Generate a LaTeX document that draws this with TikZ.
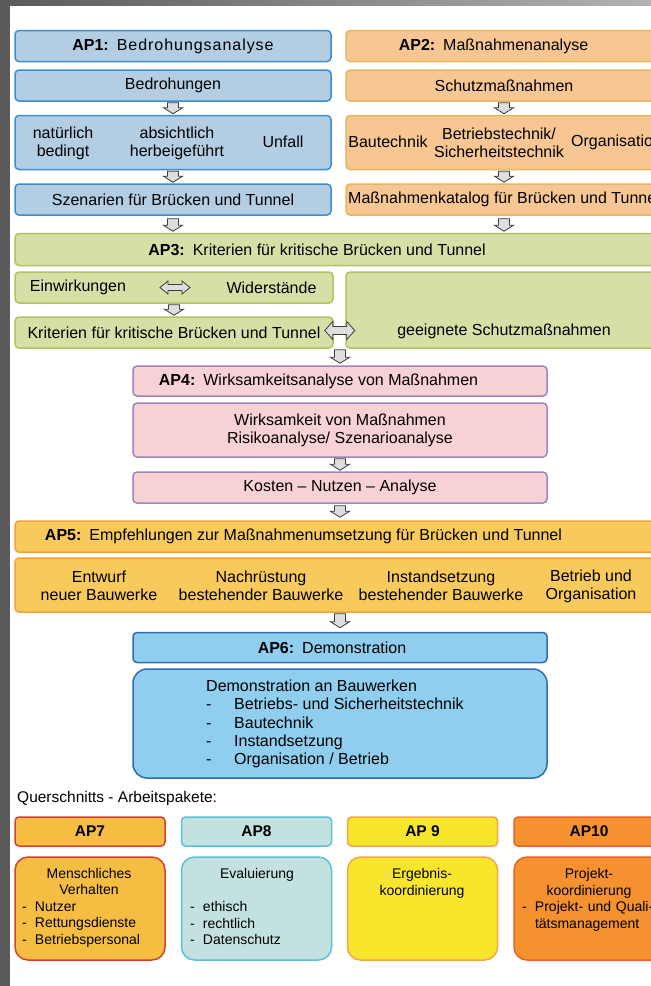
\documentclass[tikz,border=0pt]{standalone}
\usepackage{fontspec}
\setmainfont{Liberation Sans}
\usetikzlibrary{calc}

\definecolor{bedrFill}{HTML}{B3CDE3}
\definecolor{bedrLine}{HTML}{3D8ECF}
\definecolor{massFill}{HTML}{F7C692}
\definecolor{massLine}{HTML}{E6B75E}
\definecolor{kritFill}{HTML}{D6DFA6}
\definecolor{kritLine}{HTML}{AEC461}
\definecolor{wirkFill}{HTML}{F7D1D3}
\definecolor{wirkLine}{HTML}{9A87C1}
\definecolor{empfFill}{HTML}{F8CA5B}
\definecolor{empfLine}{HTML}{F3A23A}
\definecolor{demoFill}{HTML}{8FCEEF}
\definecolor{demoLine}{HTML}{2C6CB3}
\definecolor{menschFill}{HTML}{F5BE42}
\definecolor{menschLine}{HTML}{D1432F}
\definecolor{evalFill}{HTML}{C3E2DF}
\definecolor{evalLine}{HTML}{5DBFD8}
\definecolor{ergebFill}{HTML}{F7E62B}
\definecolor{ergebLine}{HTML}{F4A548}
\definecolor{projFill}{HTML}{F5922F}
\definecolor{projLine}{HTML}{E9622A}
\definecolor{arrowFill}{HTML}{DEDEDE}
\definecolor{arrowLine}{HTML}{3C3C3C}
\definecolor{frameDark}{HTML}{5A5A5A}
\definecolor{frameLight}{HTML}{B2B2B2}

\newcommand{\aplabel}[1]{\textbf{#1}\hspace{8pt}}
\newcommand{\demoitem}{\makebox[28pt][l]{-}}
\newcommand{\qitem}{\makebox[13pt][l]{-}}

\newcommand{\flowdown}[2]{%
  \path[blockarrow] let \p1=(#1), \p2=(#2) in
    (\x1-5.5pt,\y1) -- (\x1+5.5pt,\y1) -- (\x1+5.5pt,\y2+6pt)
    -- (\x1+9.5pt,\y2+6pt) -- (\x1,\y2) -- (\x1-9.5pt,\y2+6pt)
    -- (\x1-5.5pt,\y2+6pt) -- cycle;}
\newcommand{\flowboth}[4]{%
  \path[blockarrow] let \p1=(#1), \p2=(#2) in
    (\x1,\y1) -- (\x1+8pt,\y1+#3) -- (\x1+8pt,\y1+#4) -- (\x2-8pt,\y1+#4)
    -- (\x2-8pt,\y1+#3) -- (\x2,\y1) -- (\x2-8pt,\y1-#3) -- (\x2-8pt,\y1-#4)
    -- (\x1+8pt,\y1-#4) -- (\x1+8pt,\y1-#3) -- cycle;}

\begin{document}
\begin{tikzpicture}[
    x=1pt, y=-1pt,
    every node/.style={font=\fontsize{16}{18}\selectfont, inner sep=0pt, align=center},
    box/.style={draw, rounded corners=4pt, line width=1.5pt},
    bedrbox/.style={box, fill=bedrFill, draw=bedrLine, minimum width=316pt},
    massbox/.style={box, fill=massFill, draw=massLine, minimum width=316pt},
    kritbox/.style={box, fill=kritFill, draw=kritLine},
    wirkbox/.style={box, fill=wirkFill, draw=wirkLine, minimum width=414pt},
    empfbox/.style={box, fill=empfFill, draw=empfLine, minimum width=647pt},
    demobox/.style={box, fill=demoFill, draw=demoLine, minimum width=414pt},
    qhead/.style={box, minimum width=150pt, minimum height=29pt, font=\fontsize{15.5}{18}\selectfont\bfseries},
    qbody/.style={box, rounded corners=13pt, minimum width=150pt, minimum height=103pt},
    qtext/.style={font=\fontsize{14}{16.5}\selectfont, text width=134pt, align=left},
    blockarrow/.style={draw=arrowLine, fill=arrowFill, line width=0.8pt}
]
\useasboundingbox (0,0) rectangle (651,986);
\clip (0,0) rectangle (651,986);
\fill[white] (0,0) rectangle (651,986);
\shade[left color=frameDark, right color=frameLight] (0,0) rectangle (651,5);
\fill[frameDark] (0,0) rectangle (10,986);

\node[bedrbox, minimum height=31pt] (ap1) at (173,46) {\aplabel{AP1:}{\addfontfeature{LetterSpace=6}Bedrohungsanalyse}};
\node[bedrbox, minimum height=31pt] (bedr) at (173,85.5) {Bedrohungen};
\node[bedrbox, minimum height=54pt] (arten) at (173,142.5) {};
\node (natur) at (63,143) {natürlich\\bedingt};
\node (absicht) at (177,143) {absichtlich\\herbeigeführt};
\node (unfall) at (283,142) {Unfall};
\node[bedrbox, minimum height=31pt] (szen) at (173,199.5) {Szenarien für Brücken und Tunnel};

\node[massbox, minimum height=31pt] (ap2) at (504,46) {};
\node (ap2t) at (493.5,46) {\aplabel{AP2:}Maßnahmenanalyse};
\node[massbox, minimum height=31pt] (schutz) at (504,85.5) {Schutzmaßnahmen};
\node[massbox, minimum height=54pt] (massart) at (504,142.5) {};
\node (bautech) at (388,142) {Bautechnik};
\node (betrieb) at (499,143) {Betriebstechnik/\\Sicherheitstechnik};
\node[anchor=west] (orga) at (571,142) {Organisation};
\node[massbox, minimum height=31pt] (katalog) at (504,199.5) {Maßnahmenkatalog für Brücken und Tunnel};

\node[kritbox, minimum width=647pt, minimum height=32pt] (ap3) at (338.5,249.5) {};
\node (ap3t) at (317,249.5) {\aplabel{AP3:}Kriterien für kritische Brücken und Tunnel};
\node[kritbox, minimum width=318pt, minimum height=31pt] (einw) at (174,287.5) {};
\node (einwt) at (78,287.5) {Einwirkungen};
\node (widt) at (271.5,287.5) {Widerstände};
\node[kritbox, minimum width=318pt, minimum height=31pt] (krit) at (174,332.5) {Kriterien für kritische Brücken und Tunnel};
\node[kritbox, minimum width=316pt, minimum height=76pt] (geeigbox) at (504,310) {};
\node (geeig) at (504,331) {geeignete Schutzmaßnahmen};

\node[wirkbox, minimum height=30pt] (ap4) at (340,381) {};
\node (ap4t) at (318.5,381.5) {\aplabel{AP4:}Wirksamkeitsanalyse von Maßnahmen};
\node[wirkbox, minimum height=54pt] (wirk) at (340,430) {Wirksamkeit von Maßnahmen\\Risikoanalyse/ Szenarioanalyse};
\node[wirkbox, minimum height=31pt] (kosten) at (340,487.5) {Kosten – Nutzen – Analyse};

\node[empfbox, minimum height=31pt] (ap5) at (338.5,536.5) {};
\node (ap5t) at (303.5,536.5) {\aplabel{AP5:}Empfehlungen zur Maßnahmenumsetzung für Brücken und Tunnel};
\node[empfbox, minimum height=54pt] (umsetz) at (338.5,585) {};
\node (entwurf) at (99,586) {Entwurf\\neuer Bauwerke};
\node (nachr) at (261,586) {Nachrüstung\\bestehender Bauwerke};
\node (instand) at (441,586) {Instandsetzung\\bestehender Bauwerke};
\node (betr) at (591,586) {Betrieb und\\Organisation};

\node[demobox, minimum height=30pt] (ap6) at (340,647.5) {};
\node (ap6t) at (332,647.5) {\aplabel{AP6:}Demonstration};
\node[demobox, rounded corners=14pt, minimum height=109pt] (demo) at (340,723.5) {};
\node[anchor=west, align=left, font=\fontsize{16}{18.3}\selectfont] (demot) at (206,724) {Demonstration an Bauwerken\\
  \demoitem Betriebs- und Sicherheitstechnik\\
  \demoitem Bautechnik\\
  \demoitem Instandsetzung\\
  \demoitem Organisation / Betrieb};

\node[anchor=west, font=\fontsize{15.5}{18}\selectfont] (quer) at (17,798) {Querschnitts - Arbeitspakete:};
\node[qhead, fill=menschFill, draw=menschLine] (ap7) at (90,831.5) {AP7};
\node[qhead, fill=evalFill, draw=evalLine] (ap8) at (256.5,831.5) {AP8};
\node[qhead, fill=ergebFill, draw=ergebLine] (ap9) at (422.5,831.5) {AP 9};
\node[qhead, fill=projFill, draw=projLine] (ap10) at (589,831.5) {AP10};
\node[qbody, fill=menschFill, draw=menschLine] (mensch) at (90,908.5) {};
\node[qbody, fill=evalFill, draw=evalLine] (eval) at (256.5,908.5) {};
\node[qbody, fill=ergebFill, draw=ergebLine] (ergeb) at (422.5,908.5) {};
\node[qbody, fill=projFill, draw=projLine] (proj) at (589,908.5) {};
\node[qtext] (menscht) at (89,907.4) {{\centering Menschliches\\Verhalten\par}\qitem Nutzer\\\qitem Rettungsdienste\\\qitem Betriebspersonal};
\node[qtext] (evalt) at (257,906.9) {{\centering Evaluierung\par}\vspace{16.5pt}\qitem ethisch\\\qitem rechtlich\\\qitem Datenschutz};
\node[font=\fontsize{14}{16.5}\selectfont] (ergebt) at (422,883.6) {Ergebnis-\\koordinierung};
\node[qtext] (projt) at (589,900.1) {{\centering Projekt-\\koordinierung\par}\qitem Projekt- und Quali-\\\hspace*{13pt}tätsmanagement};

\flowdown{$(bedr.south)+(0,1)$}{$(arten.north)+(0,-1)$}
\flowdown{$(arten.south)+(0,1)$}{$(szen.north)+(0,-1)$}
\flowdown{$(szen.south)+(0,3)$}{$(ap3.north)+(0,-1.5)$}
\flowdown{$(schutz.south)+(0,1)$}{$(massart.north)+(0,-1)$}
\flowdown{$(massart.south)+(0,1)$}{$(katalog.north)+(0,-1)$}
\flowdown{$(katalog.south)+(0,3)$}{$(ap3.north)+(0,-1.5)$}
\flowdown{$(einw.south)+(0,1)$}{$(krit.north)+(0,-1)$}
\flowdown{$(krit.south -| ap4.north)+(0,1)$}{$(ap4.north)+(0,-2)$}
\flowdown{$(wirk.south)+(0,1)$}{$(kosten.north)+(0,-1)$}
\flowdown{$(kosten.south)+(0,2)$}{$(ap5.north)+(0,-3)$}
\flowdown{$(umsetz.south -| ap6.north)+(0,1)$}{$(ap6.north)+(0,-4)$}
\flowboth{$(einw.center)+(-14,0)$}{$(einw.center)+(16,0)$}{6.5pt}{3pt}
\flowboth{$(krit.east)+(-9,-2)$}{$(krit.east)+(21,-2)$}{9pt}{4pt}
\end{tikzpicture}
\end{document}
